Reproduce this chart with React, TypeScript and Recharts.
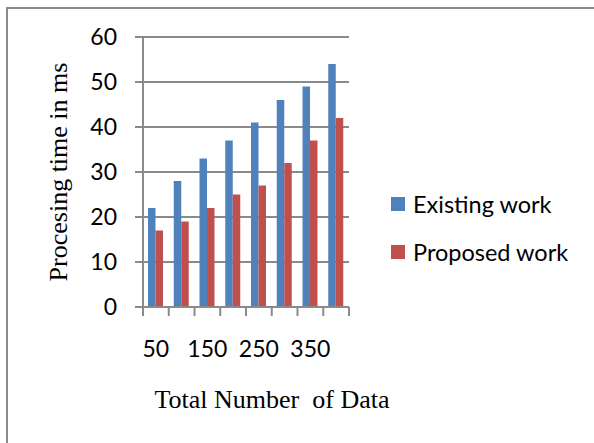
import React from "react";
import { BarChart, Bar, XAxis, YAxis, CartesianGrid, Legend, Label } from "recharts";

// values
const dataSizes = ["50", "100", "150", "200", "250", "300", "350", "400"];
const existingWork = [22, 28, 33, 37, 41, 46, 49, 54];
const proposedWork = [17, 19, 22, 25, 27, 32, 37, 42];
const yTicks = [0, 10, 20, 30, 40, 50, 60];

const BLUE = "#4F81BD";
const RED = "#C0504D";
const GRID = "#8a8a8a";
const SANS = "Lato, Calibri, sans-serif";
const SERIF = "'Liberation Serif', 'Times New Roman', serif";

const data = dataSizes.map((size, i) => ({
  size,
  existing: existingWork[i],
  proposed: proposedWork[i],
}));

// excel style: tick marks on category edges, every other label shown
function CategoryTick(props: any) {
  const { x, y, payload, index, visibleTicksCount } = props;
  const half = payload.offset ?? 0;
  const isLast = index === (visibleTicksCount ?? dataSizes.length) - 1;
  return (
    <g>
      <line x1={x - half} x2={x - half} y1={y} y2={y + 9} stroke={GRID} strokeWidth={2} />
      {isLast && (
        <line x1={x + half} x2={x + half} y1={y} y2={y + 9} stroke={GRID} strokeWidth={2} />
      )}
      {index % 2 === 0 && (
        <text
          x={x}
          y={y + 34}
          dy="0.71em"
          textAnchor="middle"
          fill="#000"
          fontSize={23}
          fontFamily={SANS}
        >
          {payload.value}
        </text>
      )}
    </g>
  );
}

function LegendList(props: any) {
  const payload = props.payload ?? [];
  return (
    <div>
      {payload.map((entry: any) => (
        <div
          key={entry.value}
          style={{ display: "flex", alignItems: "center", height: 48 }}
        >
          <span
            style={{
              width: 14,
              height: 14,
              background: entry.color,
              marginRight: 8,
              flex: "none",
            }}
          />
          <span style={{ fontFamily: SANS, fontSize: 23.5, color: "#000", whiteSpace: "nowrap" }}>
            {entry.value}
          </span>
        </div>
      ))}
    </div>
  );
}

export default function App() {
  return (
    <div style={{ position: "fixed", left: 0, top: 0, width: 594, height: 443, background: "#fff" }}>
      <div
        style={{
          position: "absolute",
          left: 6,
          top: 7,
          width: 588,
          height: 436,
          boxSizing: "border-box",
          borderLeft: `2px solid ${GRID}`,
          borderTop: `2px solid ${GRID}`,
        }}
      />
      <BarChart
        width={594}
        height={443}
        data={data}
        margin={{ top: 37, right: 245, bottom: 135, left: 0 }}
        barGap={0}
      >
        <CartesianGrid vertical={false} stroke={GRID} strokeWidth={2} />
        <XAxis
          dataKey="size"
          interval={0}
          height={1}
          tickSize={0}
          tickMargin={0}
          axisLine={{ stroke: GRID, strokeWidth: 2 }}
          tickLine={false}
          tick={<CategoryTick />}
        >
          <Label
            value={"Total Number\u00a0 of Data"}
            position="bottom"
            offset={82}
            dx={26}
            style={{ fill: "#000", fontSize: 26, fontFamily: SERIF }}
          />
        </XAxis>
        <YAxis
          width={143}
          domain={[0, 60]}
          ticks={yTicks}
          interval={0}
          tickSize={8}
          tickMargin={18}
          axisLine={{ stroke: GRID, strokeWidth: 2 }}
          tickLine={{ stroke: GRID, strokeWidth: 2 }}
          tick={{ fill: "#000", fontSize: 23, fontFamily: SANS }}
        >
          <Label
            value="Procesing time in ms"
            angle={-90}
            position="center"
            dx={-14}
            style={{ fill: "#000", fontSize: 26, fontFamily: SERIF, textAnchor: "middle" }}
          />
        </YAxis>
        <Legend
          layout="horizontal"
          verticalAlign="middle"
          content={<LegendList />}
          wrapperStyle={{ left: 391, top: 180, width: 200 }}
        />
        <Bar dataKey="existing" name="Existing work" fill={BLUE} barSize={7.5} isAnimationActive={false} />
        <Bar dataKey="proposed" name="Proposed work" fill={RED} barSize={7.5} isAnimationActive={false} />
      </BarChart>
    </div>
  );
}
